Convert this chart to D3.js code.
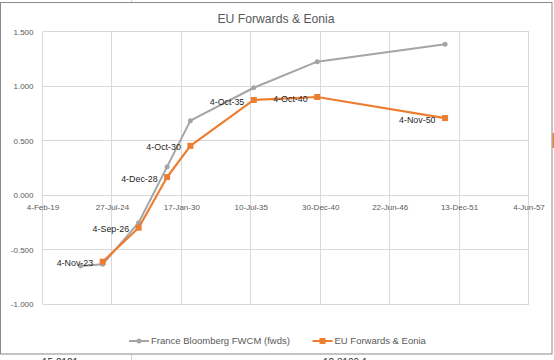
<!DOCTYPE html>
<html>
<head>
<meta charset="utf-8">
<script src="https://cdn.jsdelivr.net/npm/d3@7"></script>
<style>
    body { margin: 0; background: #ffffff; }
    svg { display: block; font-family: "Liberation Sans", Arial, sans-serif; }
</style>
</head>
<body>
<svg width="554" height="360"></svg>
<script>
// values
var xTickLabels = ["4-Feb-19", "27-Jul-24", "17-Jan-30", "10-Jul-35", "30-Dec-40", "22-Jun-46", "13-Dec-51", "4-Jun-57"];
var yTicks = [-1, -0.5, 0, 0.5, 1, 1.5];

var franceDates = ["4-Feb-22", "4-Nov-23", "4-Sep-26", "4-Dec-28", "4-Oct-30", "4-Oct-35", "4-Oct-40", "4-Nov-50"];
var franceValues = [-0.651, -0.636, -0.254, 0.260, 0.682, 0.984, 1.223, 1.383];

var euDates = ["4-Nov-23", "4-Sep-26", "4-Dec-28", "4-Oct-30", "4-Oct-35", "4-Oct-40", "4-Nov-50"];
var euValues = [-0.612, -0.300, 0.165, 0.451, 0.872, 0.899, 0.706];

var seriesNames = ["France Bloomberg FWCM (fwds)", "EU Forwards & Eonia"];
var grey = "#a5a5a5";
var orange = "#ed7d31";

var parseDate = d3.timeParse("%d-%b-%y");
var formatDate = d3.timeFormat("%-d-%b-%y");
var formatValue = d3.formatLocale({decimal: ".", thousands: ",", grouping: [3], currency: ["", ""], minus: "-"}).format(".3f");

function toPoints(dates, values) {
    return dates.map(function(d, i) {
        return {date: parseDate(d), value: values[i]};
    });
}

var francePoints = toPoints(franceDates, franceValues);
var euPoints = toPoints(euDates, euValues);
var tickDates = xTickLabels.map(parseDate);

var plotLeft = 42.5, plotRight = 528.5, plotTop = 31.5, plotBottom = 304;

var x = d3.scaleTime([tickDates[0], tickDates[tickDates.length - 1]], [plotLeft, plotRight]);
var y = d3.scaleLinear([-1, 1.5], [plotBottom, plotTop]);

var svg = d3.select("svg");

// bits of the spreadsheet showing round the chart
svg.append("line").attr("x1", 131.5).attr("x2", 131.5).attr("y1", 0).attr("y2", 3).attr("stroke", "#d4d4d4");
svg.append("line").attr("x1", 131.5).attr("x2", 131.5).attr("y1", 354).attr("y2", 360).attr("stroke", "#d4d4d4");
svg.append("text").attr("x", 42).attr("y", 366).attr("font-size", 10).attr("fill", "#333").text("15.2121");
svg.append("text").attr("x", 323).attr("y", 366).attr("font-size", 10).attr("fill", "#333").text("12.3100.1");
svg.append("rect").attr("x", 552.5).attr("y", 133).attr("width", 2).attr("height", 15).attr("fill", orange);

// Chart frame
svg.append("rect")
    .attr("x", 0.5).attr("y", 2.5)
    .attr("width", 551.5).attr("height", 351.5)
    .attr("fill", "#ffffff")
    .attr("stroke", "#8a8a8a");

// Title
svg.append("text")
    .attr("x", 276).attr("y", 19)
    .attr("dy", "0.35em")
    .attr("text-anchor", "middle")
    .attr("font-size", 12.2)
    .attr("fill", "#595959")
    .text("EU Forwards & Eonia");

// Gridlines
var grid = svg.append("g").attr("stroke", "#d9d9d9").attr("shape-rendering", "crispEdges");
grid.selectAll("line.h")
    .data(yTicks)
    .enter()
        .append("line")
        .attr("class", "h")
        .attr("x1", plotLeft).attr("x2", plotRight)
        .attr("y1", function(d) { return y(d); })
        .attr("y2", function(d) { return y(d); });
grid.selectAll("line.v")
    .data(tickDates)
    .enter()
        .append("line")
        .attr("class", "v")
        .attr("y1", plotTop).attr("y2", plotBottom)
        .attr("x1", function(d) { return x(d); })
        .attr("x2", function(d) { return x(d); });

// Y Axis
var yAxis = svg.append("g")
    .attr("transform", "translate(" + plotLeft + ", 0)")
    .call(d3.axisLeft(y).tickValues(yTicks).tickFormat(formatValue).tickSize(0).tickPadding(9));
yAxis.select(".domain").remove();
yAxis.selectAll("text")
    .attr("font-family", "Liberation Sans, Arial, sans-serif")
    .attr("font-size", 8)
    .attr("fill", "#595959");

// X Axis, crossing at zero
var xAxis = svg.append("g")
    .attr("transform", "translate(0, " + y(0) + ")")
    .call(d3.axisBottom(x).tickValues(tickDates).tickFormat(formatDate).tickSize(0).tickPadding(9));
xAxis.select(".domain").remove();
xAxis.selectAll("text")
    .attr("font-family", "Liberation Sans, Arial, sans-serif")
    .attr("font-size", 8)
    .attr("fill", "#595959");

var line = d3.line()
    .x(function(d) { return x(d.date); })
    .y(function(d) { return y(d.value); });

// France series
svg.append("path")
    .datum(francePoints)
    .attr("d", line)
    .attr("fill", "none")
    .attr("stroke", grey)
    .attr("stroke-width", 2)
    .attr("stroke-linejoin", "round");
svg.append("g")
    .selectAll("circle")
    .data(francePoints)
    .enter()
        .append("circle")
        .attr("cx", function(d) { return x(d.date); })
        .attr("cy", function(d) { return y(d.value); })
        .attr("r", 2.5)
        .attr("fill", grey);

// EU series
svg.append("path")
    .datum(euPoints)
    .attr("d", line)
    .attr("fill", "none")
    .attr("stroke", orange)
    .attr("stroke-width", 2.2)
    .attr("stroke-linejoin", "round");
svg.append("g")
    .selectAll("rect")
    .data(euPoints)
    .enter()
        .append("rect")
        .attr("x", function(d) { return x(d.date) - 3; })
        .attr("y", function(d) { return y(d.value) - 3; })
        .attr("width", 6)
        .attr("height", 6)
        .attr("fill", orange);

// Data labels, left of the point
svg.append("g")
    .selectAll("text")
    .data(euPoints)
    .enter()
        .append("text")
        .attr("x", function(d) { return x(d.date) - 9.5; })
        .attr("y", function(d) { return y(d.value) + 1.5; })
        .attr("dy", "0.35em")
        .attr("text-anchor", "end")
        .attr("font-size", 8.9)
        .attr("fill", "#262626")
        .text(function(d) { return formatDate(d.date); });

// Legend
var legendX = [129, 312.5];
var legend = svg.append("g")
    .selectAll("g")
    .data(seriesNames)
    .enter()
        .append("g")
        .attr("transform", function(d, i) { return "translate(" + legendX[i] + ", 341)"; });
legend.append("line")
    .attr("x1", 0).attr("x2", 20)
    .attr("stroke", function(d, i) { return i == 0 ? grey : orange; })
    .attr("stroke-width", 2);
legend.each(function(d, i) {
    var g = d3.select(this);
    if (i == 0) {
        g.append("circle").attr("cx", 10).attr("r", 2.5).attr("fill", grey);
    } else {
        g.append("rect").attr("x", 7).attr("y", -3).attr("width", 6).attr("height", 6).attr("fill", orange);
    }
});
legend.append("text")
    .attr("x", 22)
    .attr("dy", "0.35em")
    .attr("font-size", 9.5)
    .attr("fill", "#595959")
    .text(function(d) { return d; });
</script>
</body>
</html>
